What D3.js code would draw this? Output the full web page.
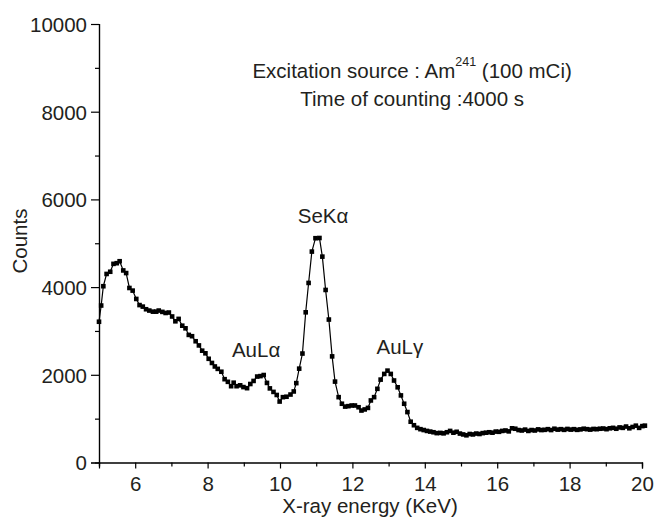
<!DOCTYPE html>
<html>
<head>
<meta charset="utf-8">
<script src="https://cdn.jsdelivr.net/npm/d3@7"></script>
<style>
  body { margin: 0; background: #fff; }
  svg text { font-family: "Liberation Sans", Arial, Helvetica, sans-serif; fill: #231f20; }
</style>
</head>
<body>
<svg id="chart" width="660" height="518"></svg>
<script>
// spectrum (energy in keV, counts)
const energy = [
  5.00, 5.06, 5.12, 5.21, 5.31, 5.40, 5.49, 5.57, 5.67, 5.75, 5.84, 5.93, 6.03, 6.12, 6.21, 6.30,
  6.39, 6.49, 6.58, 6.65, 6.75, 6.84, 6.93, 7.02, 7.11, 7.20, 7.30, 7.39, 7.48, 7.57, 7.67, 7.76,
  7.85, 7.94, 8.03, 8.12, 8.20, 8.28, 8.38, 8.47, 8.56, 8.65, 8.72, 8.80, 8.90, 8.99, 9.09, 9.18,
  9.27, 9.37, 9.46, 9.55, 9.64, 9.72, 9.82, 9.91, 9.99, 10.08, 10.18, 10.29, 10.38, 10.45, 10.53,
  10.62, 10.71, 10.79, 10.88, 10.98, 11.09, 11.17, 11.26, 11.35, 11.44, 11.52, 11.62, 11.71, 11.80,
  11.89, 11.98, 12.07, 12.17, 12.25, 12.34, 12.43, 12.51, 12.60, 12.69, 12.78, 12.88, 12.97, 13.06,
  13.15, 13.25, 13.34, 13.43, 13.52, 13.61, 13.70, 13.79, 13.88, 13.97, 14.06, 14.15, 14.24, 14.33,
  14.43, 14.52, 14.61, 14.70, 14.79, 14.88, 14.97, 15.06, 15.15, 15.24, 15.33, 15.42, 15.51, 15.60,
  15.69, 15.78, 15.87, 15.96, 16.05, 16.14, 16.23, 16.32, 16.41, 16.50, 16.59, 16.68, 16.77, 16.86,
  16.95, 17.04, 17.13, 17.22, 17.31, 17.40, 17.49, 17.58, 17.67, 17.76, 17.85, 17.94, 18.03, 18.12,
  18.21, 18.30, 18.39, 18.48, 18.57, 18.66, 18.75, 18.84, 18.93, 19.02, 19.11, 19.20, 19.29, 19.38,
  19.47, 19.56, 19.65, 19.74, 19.83, 19.92, 20.01, 20.08
];
const counts = [
  3210, 3580, 4020, 4300, 4350, 4530, 4545, 4590, 4380, 4320, 3980, 3920, 3730, 3590, 3555, 3495,
  3465, 3440, 3440, 3465, 3435, 3410, 3420, 3330, 3220, 3275, 3120, 3060, 2910, 2880, 2765, 2670,
  2550, 2490, 2365, 2270, 2190, 2135, 2070, 1900, 1840, 1740, 1820, 1740, 1760, 1720, 1695, 1790,
  1860, 1960, 1970, 1995, 1815, 1690, 1610, 1540, 1390, 1490, 1500, 1550, 1620, 1810, 2140,
  2485, 3425, 4095, 4810, 5115, 5120, 4695, 3935, 3260, 2420, 1845, 1490, 1340, 1275,
  1285, 1300, 1300, 1260, 1185, 1210, 1245, 1415, 1490, 1680, 1890, 2020, 2095, 2020,
  1870, 1715, 1530, 1340, 1150, 930, 850, 790, 760, 740, 720, 705, 690, 670,
  675, 665, 690, 720, 680, 700, 660, 640, 620, 650, 640, 660, 650, 670,
  680, 690, 680, 705, 700, 720, 730, 710, 780, 770, 740, 730, 750, 720,
  740, 730, 755, 740, 745, 760, 740, 770, 750, 760, 745, 765, 750, 760,
  745, 755, 770, 760, 750, 765, 760, 770, 775, 760, 780, 790, 770, 800,
  790, 820, 780, 810, 840, 790, 830, 840
];

const xMajor = [6, 8, 10, 12, 14, 16, 18, 20];
const xMinor = [5, 7, 9, 11, 13, 15, 17, 19];
const yMajor = [0, 2000, 4000, 6000, 8000, 10000];
const yMinor = [1000, 3000, 5000, 7000, 9000];

const peakLabels = [
  { name: "AuL\u03b1", energy: 9.34, counts: 2406 },
  { name: "SeK\u03b1", energy: 11.19, counts: 5462 },
  { name: "AuL\u03b3", energy: 13.31, counts: 2474 }
];

const svg = d3.select("#chart");
const x = d3.scaleLinear().domain([5, 20]).range([99, 642]);
const y = d3.scaleLinear().domain([0, 10000]).range([462.5, 24]);
const fontSize = 20.5;

// axes
const gx = svg.append("g").attr("transform", `translate(0,${y(0)})`);
gx.call(d3.axisBottom(x).tickValues(xMajor).tickSize(6).tickPadding(8).tickFormat(d3.format("d")));
gx.append("g").call(d3.axisBottom(x).tickValues(xMinor).tickSize(4).tickFormat(""));

const gy = svg.append("g").attr("transform", `translate(${x(5)},0)`);
gy.call(d3.axisLeft(y).tickValues(yMajor).tickSize(8).tickPadding(4).tickFormat(d3.format("d")));
gy.append("g").call(d3.axisLeft(y).tickValues(yMinor).tickSize(4).tickFormat(""));

svg.selectAll(".domain").attr("stroke", "#000").attr("stroke-width", 1.2);
svg.selectAll(".tick line").attr("stroke", "#000").attr("stroke-width", 1.2);
svg.selectAll(".tick text")
  .attr("font-size", fontSize)
  .attr("font-family", null)
  .attr("fill", "#231f20");
gy.selectAll(".tick text").attr("dy", "0.36em");

// axis titles
svg.append("text")
  .attr("x", 370)
  .attr("y", 513)
  .attr("text-anchor", "middle")
  .attr("font-size", fontSize)
  .text("X-ray energy (KeV)");

svg.append("text")
  .attr("transform", "translate(27,241) rotate(-90)")
  .attr("text-anchor", "middle")
  .attr("font-size", fontSize)
  .text("Counts");

// spectrum line and markers
const pts = energy.map((e, i) => [e, counts[i]]);
svg.append("path")
  .datum(pts)
  .attr("fill", "none")
  .attr("stroke", "#000")
  .attr("stroke-width", 1.2)
  .attr("d", d3.line().x((d) => x(d[0])).y((d) => y(d[1])));

const ms = 4.6;
svg.append("g")
  .selectAll("rect")
  .data(pts)
  .join("rect")
  .attr("x", (d) => x(d[0]) - ms / 2)
  .attr("y", (d) => y(d[1]) - ms / 2)
  .attr("width", ms)
  .attr("height", ms)
  .attr("fill", "#000");

// peak labels
svg.append("g")
  .selectAll("text")
  .data(peakLabels)
  .join("text")
  .attr("x", (d) => x(d.energy))
  .attr("y", (d) => y(d.counts))
  .attr("text-anchor", "middle")
  .attr("font-size", fontSize)
  .text((d) => d.name);

// measurement conditions
const note = svg.append("text")
  .attr("x", x(13.65))
  .attr("y", 78)
  .attr("text-anchor", "middle")
  .attr("font-size", fontSize);
note.append("tspan").text("Excitation source : Am");
note.append("tspan").attr("font-size", 12.5).attr("dy", -12).text("241");
note.append("tspan").attr("dy", 12).text(" (100 mCi)");

svg.append("text")
  .attr("x", x(13.65))
  .attr("y", 106)
  .attr("text-anchor", "middle")
  .attr("font-size", fontSize)
  .text("Time of counting :4000 s");
</script>
</body>
</html>
